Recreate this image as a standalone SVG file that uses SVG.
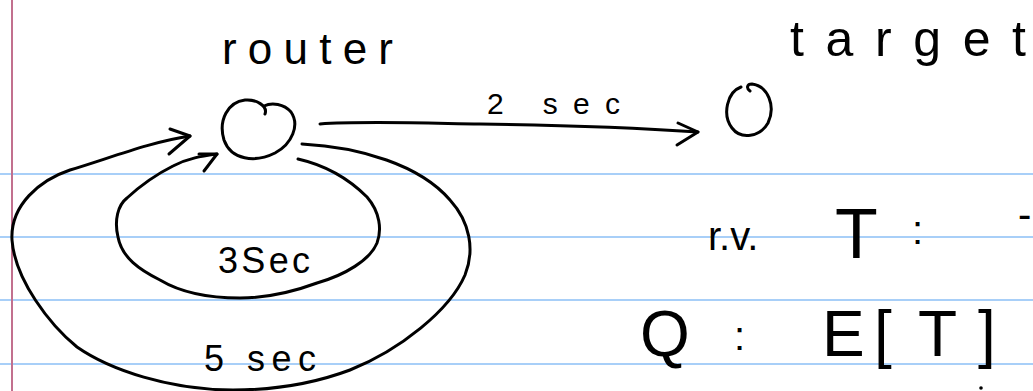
<svg xmlns="http://www.w3.org/2000/svg" width="1033" height="391" viewBox="0 0 1033 391">
<style>
.rule{stroke:#a8cff8;stroke-width:2}
.margin{stroke:#c2708e;stroke-width:2}
.ink{fill:none;stroke:#000;stroke-width:3;stroke-linecap:round;stroke-linejoin:round}
.hw{font-family:"Liberation Sans","DejaVu Sans",sans-serif;fill:#000}
</style>
<rect width="1033" height="391" fill="#fff"/>
<g id="paper">
<line class="rule" x1="0" y1="174" x2="1033" y2="174"/>
<line class="rule" x1="0" y1="237" x2="1033" y2="237"/>
<line class="rule" x1="0" y1="300" x2="1033" y2="300"/>
<line class="rule" x1="0" y1="364" x2="1033" y2="364"/>
<line class="margin" x1="12" y1="0" x2="12" y2="391"/>
</g>
<g id="router">
<path class="ink" d="M265 114 C268 106 256 99 245 100 C228 102 218 120 224 140 C231 160 255 163 275 153 C292 144 300 125 291 112 C284 104 272 102 264 106"/>
<text class="hw" x="222" y="64" font-size="44" textLength="171" lengthAdjust="spacing">router</text>
</g>
<g id="target">
<path class="ink" d="M741 87 C727 92 722 115 732 128 C741 140 760 137 768 123 C776 106 768 86 752 84 C747 84 746 88 750 91"/>
<text class="hw" x="790" y="56" font-size="50" textLength="236" lengthAdjust="spacing">target</text>
</g>
<g id="connectors">
<path class="ink" d="M320 124 C360 121 420 123 480 124 C560 125 640 128 698 132"/>
<path class="ink" d="M678 123 L698 132 L677 145"/>
<path class="ink" d="M298 159 C320 164 345 175 367 197 C380 212 382 230 377 243 C370 260 345 275 317 283 C290 293 265 298 240 298 C205 298 180 292 160 280 C140 270 122 258 118 237 C114 220 118 205 127 198 C140 186 155 175 173 166 C188 158 203 156 217 154"/>
<path class="ink" d="M199 154 L217 154 L204 171"/>
<path class="ink" d="M302 144 C360 147 420 165 450 200 C470 222 475 250 465 275 C450 310 400 350 350 370 C310 385 270 390 233 390 C170 390 110 370 77 347 C50 325 15 280 12 240 C10 205 40 180 70 170 C110 158 150 142 190 136"/>
<path class="ink" d="M170 129 L190 136 L169 154"/>
<text class="hw" x="487" y="114" font-size="30" textLength="133" lengthAdjust="spacing">2 sec</text>
<text class="hw" x="218" y="273" font-size="36" textLength="92" lengthAdjust="spacing">3Sec</text>
<text class="hw" x="204" y="371" font-size="36" textLength="112" lengthAdjust="spacing">5 sec</text>
</g>
<g id="notes">
<text class="hw" font-size="40"><tspan x="708" y="250">r.v.</tspan><tspan x="835" y="258" font-size="70">T</tspan><tspan x="912" y="244">:</tspan><tspan x="1018" y="228">-</tspan></text>
<text class="hw" font-size="64"><tspan x="640" y="356">Q</tspan><tspan x="734" y="350" font-size="40">:</tspan><tspan x="822" y="356">E</tspan><tspan x="874" y="356">[</tspan><tspan x="918" y="356">T</tspan><tspan x="978" y="356">]</tspan></text>
<circle cx="981" cy="388" r="1.8" fill="#000"/>
</g>
</svg>
